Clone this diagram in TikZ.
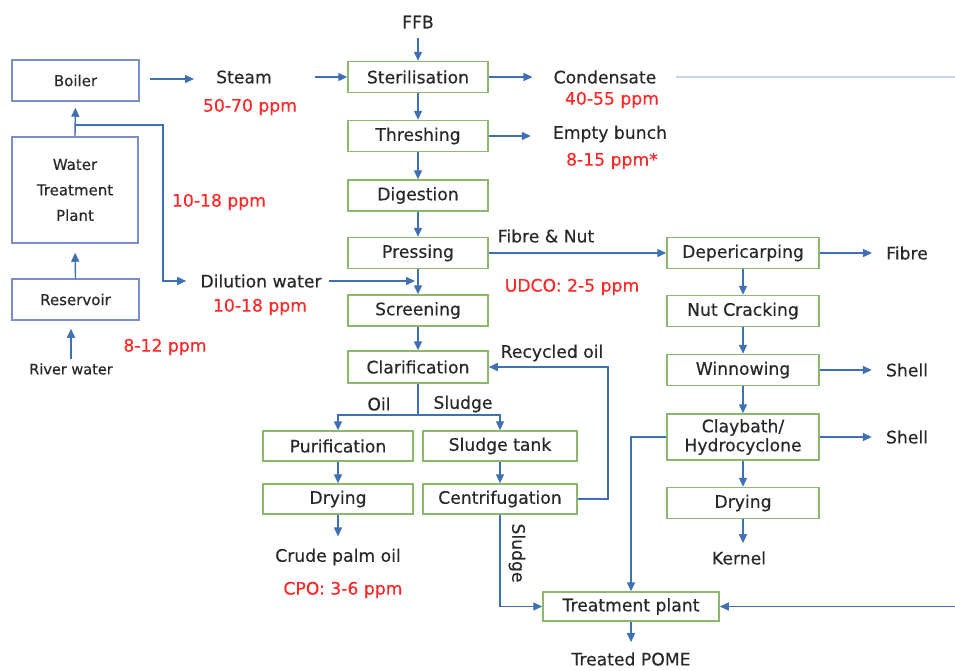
\documentclass[tikz,border=0pt]{standalone}
\usepackage{fontspec}
\setmainfont{DejaVu Sans}[FakeBold=0.35]
\usetikzlibrary{arrows.meta,calc}
\definecolor{boxgreen}{RGB}{140,184,110}
\definecolor{boxblue}{RGB}{125,141,200}
\definecolor{arrblue}{RGB}{64,112,180}
\definecolor{lightblue}{RGB}{200,214,236}
\definecolor{txt}{RGB}{40,40,40}
\definecolor{redtxt}{RGB}{255,40,40}
\tikzset{
  mainfont/.style={font=\fontsize{17.2}{20}\selectfont},
  procbox/.style={draw=boxgreen, line width=1.5pt, fill=white, minimum width=140pt, minimum height=31pt, inner sep=0pt, text=txt, mainfont},
  leftbox/.style={draw=boxblue, line width=1.5pt, fill=white, minimum width=127pt, minimum height=41pt, inner sep=0pt, text=txt, font=\fontsize{15}{25.5}\selectfont},
  lbl/.style={inner sep=0pt, text=txt, mainfont},
  redlbl/.style={inner sep=0pt, text=redtxt, mainfont},
  arr/.style={draw=arrblue, line width=1.4pt, -{Triangle[length=9pt,width=8pt]}},
  plainline/.style={draw=arrblue, line width=1.4pt},
  lightline/.style={draw=lightblue, line width=2.5pt}
}
\begin{document}
\begin{tikzpicture}[x=1pt,y=-1pt]
\fill[white] (0,0) rectangle (955,670);
\useasboundingbox (0,0) rectangle (955,670);

% left column
\node[leftbox] (boiler) at (75.5,80.5) {Boiler};
\node[leftbox, minimum width=126pt, minimum height=106pt, align=center] (wtp) at (75,190) {Water\\Treatment\\Plant};
\node[leftbox] (res) at (75.5,299.5) {Reservoir};
\node[lbl, font=\fontsize{14.5}{18}\selectfont] (river) at (71,369) {River water};

% main column
\node[lbl] (ffb) at (418,22) {FFB};
\node[procbox] (ster) at (418,77) {Sterilisation};
\node[procbox] (thr) at (418,136) {Threshing};
\node[procbox] (dig) at (418,195.5) {Digestion};
\node[procbox] (press) at (418,253) {Pressing};
\node[procbox] (scr) at (418,310.5) {Screening};
\node[procbox, minimum height=32pt] (clar) at (418,367) {Clarification};

% bottom left
\node[procbox, minimum width=150pt, minimum height=30pt] (pur) at (338,446) {Purification};
\node[procbox, minimum width=154pt, minimum height=30pt] (stank) at (500,446) {Sludge tank};
\node[procbox, minimum width=150pt, minimum height=30pt] (dry1) at (338,499) {Drying};
\node[procbox, minimum width=154pt, minimum height=30pt] (cent) at (500,499) {Centrifugation};
\node[procbox, minimum width=176pt, minimum height=29pt] (tp) at (631,606.5) {Treatment plant};

% right column
\node[procbox, minimum width=152pt] (dep) at (743,253) {Depericarping};
\node[procbox, minimum width=152pt] (nut) at (743,311) {Nut Cracking};
\node[procbox, minimum width=152pt] (win) at (743,370) {Winnowing};
\node[procbox, minimum width=152pt, minimum height=46pt, align=center, font=\fontsize{17.2}{19}\selectfont] (clay) at (743,437) {Claybath/\\Hydrocyclone};
\node[procbox, minimum width=152pt] (dry2) at (743,503) {Drying};

% labels
\node[lbl] (steam) at (244,77) {Steam};
\node[redlbl] (steamppm) at (250,107) {50-70 ppm};
\node[redlbl] (wppm) at (219,202) {10-18 ppm};
\node[lbl] (dil) at (261,281) {Dilution water};
\node[redlbl] (dilppm) at (260,307) {10-18 ppm};
\node[redlbl] (rppm) at (165,347) {8-12 ppm};
\node[lbl] (cond) at (605,77) {Condensate};
\node[redlbl] (condppm) at (612,100) {40-55 ppm};
\node[lbl] (eb) at (610,134) {Empty bunch};
\node[redlbl] (ebppm) at (612,161) {8-15 ppm*};
\node[lbl] (fn) at (546,236) {Fibre \& Nut};
\node[redlbl] (udco) at (572,287) {UDCO: 2-5 ppm};
\node[lbl] (fibre) at (907,253) {Fibre};
\node[lbl] (shell1) at (907,370) {Shell};
\node[lbl] (shell2) at (907,437) {Shell};
\node[lbl] (kernel) at (739,558) {Kernel};
\node[lbl] (oil) at (379,404) {Oil};
\node[lbl] (sludge) at (463,404) {Sludge};
\node[lbl] (recycled) at (552,353) {Recycled oil};
\node[lbl, rotate=-90] (sludgev) at (517,553) {Sludge};
\node[lbl] (cpo) at (338,557) {Crude palm oil};
\node[redlbl] (cpoppm) at (343,590) {CPO: 3-6 ppm};
\node[lbl] (pome) at (631,659) {Treated POME};

% coordinates
\coordinate (br) at (75,125);
\coordinate (dc) at (163,125);
\coordinate (edgeA) at (955,77);
\coordinate (edgeB) at (955,606.5);
\coordinate (split) at (418,415);
\coordinate (rc) at (608,499);

% left connectors
\draw[arr, shorten <=4pt, shorten >=8pt] (river) -- (river |- res.south);
\draw[arr, shorten >=9pt] (res.north) -- (wtp.south);
\draw[arr, shorten >=6pt] (wtp.north) -- (boiler.south);
\draw[arr, shorten >=14pt] (br) -- (dc) |- (dil.west);
\draw[arr, shorten <=10pt, shorten >=22pt] (boiler.east |- 0,79) -- (steam.west |- 0,79);
\draw[arr, shorten <=43pt] (steam.east) -- (ster.west);
\draw[arr, shorten <=7pt, shorten >=3pt] (dil.east) -- (dil.east -| scr.north);

% main column
\draw[arr, shorten <=10pt] (ffb.south) -- (ster.north);
\draw[arr] (ster) -- (thr);
\draw[arr] (thr) -- (dig);
\draw[arr] (dig) -- (press);
\draw[arr] (press) -- (scr);
\draw[arr] (scr) -- (clar);
\draw[arr, shorten >=21pt] (ster.east) -- (cond.west);
\draw[lightline, shorten <=19pt] (cond.east) -- (edgeA);
\draw[arr, shorten >=22pt] (thr.east) -- (eb.west |- thr.east);
\draw[arr] (press.east) -- (dep.west);

% clarification branches
\draw[plainline] (clar.south) -- (split);
\draw[arr] (split) -| (pur.north);
\draw[arr] (split) -| (stank.north);
\draw[arr] (pur) -- (dry1);
\draw[arr] (stank) -- (cent);
\draw[arr, shorten >=12pt] (dry1.south) -- (cpo.north);
\draw[arr] (cent.east) -- (rc) |- (clar.east);
\draw[arr] (cent.south) |- (tp.west);

% right column
\draw[arr, shorten >=14pt] (dep.east) -- (fibre.west);
\draw[arr] (dep) -- (nut);
\draw[arr] (nut) -- (win);
\draw[arr] (win) -- (clay);
\draw[arr] (clay) -- (dry2);
\draw[arr, shorten >=8pt] (dry2.south) -- (dry2.south |- kernel.north);
\draw[arr, shorten >=14pt] (win.east) -- (shell1.west);
\draw[arr, shorten >=14pt] (clay.east) -- (shell2.west);
\draw[arr] (clay.west) -| (tp.north);
\draw[arr] (edgeB) -- (tp.east);
\draw[arr, shorten >=10pt] (tp.south) -- (pome.north);
\end{tikzpicture}
\end{document}
